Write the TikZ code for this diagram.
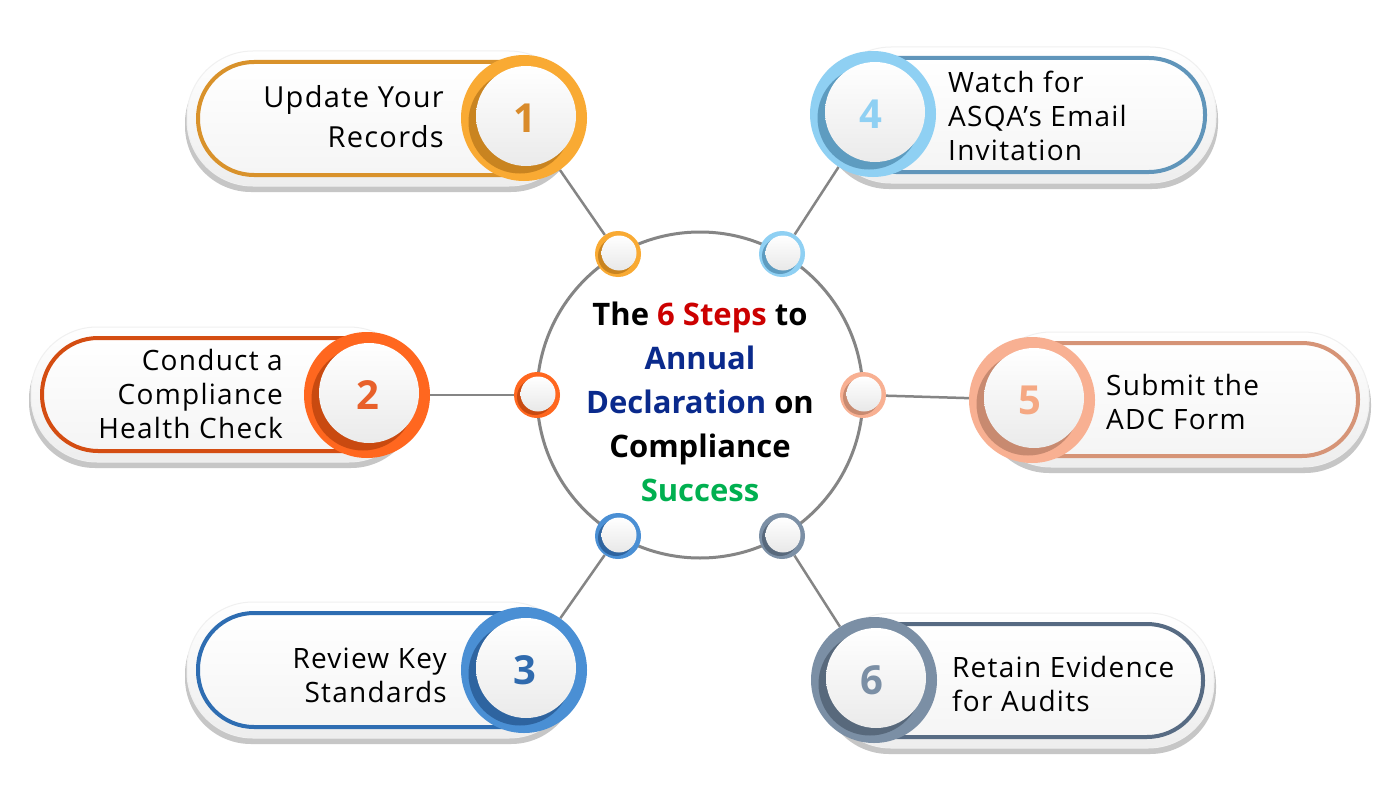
\documentclass[tikz,border=0pt]{standalone}
\usepackage{fontspec}
\setmainfont{Open Sans}
\newfontfamily\bodyfont[LetterSpace=4.5]{Open Sans}
\usetikzlibrary{calc}
\definecolor{ringA}{HTML}{F9AA33}\definecolor{darkA}{HTML}{C98420}\definecolor{strkA}{HTML}{D9922B}\definecolor{numA}{HTML}{D98B2B}
\definecolor{ringB}{HTML}{FF671F}\definecolor{darkB}{HTML}{C94A10}\definecolor{strkB}{HTML}{D44D12}\definecolor{numB}{HTML}{E8602A}
\definecolor{ringC}{HTML}{4A8FD4}\definecolor{darkC}{HTML}{2E64A0}\definecolor{strkC}{HTML}{2E6DB2}\definecolor{numC}{HTML}{2F6AAE}
\definecolor{ringD}{HTML}{8FD0F3}\definecolor{darkD}{HTML}{5E9CC0}\definecolor{strkD}{HTML}{6095BA}\definecolor{numD}{HTML}{8FD0F3}
\definecolor{ringE}{HTML}{F8B092}\definecolor{darkE}{HTML}{C88A70}\definecolor{strkE}{HTML}{D69477}\definecolor{numE}{HTML}{F5A883}
\definecolor{ringF}{HTML}{7B8FA5}\definecolor{darkF}{HTML}{58697C}\definecolor{strkF}{HTML}{576B83}\definecolor{numF}{HTML}{7B8FA5}
\definecolor{hubgray}{HTML}{858585}
\definecolor{tred}{HTML}{CC0000}\definecolor{tnavy}{HTML}{0A2A8C}\definecolor{tgreen}{HTML}{00B050}
% pill: outer x1,y1,x2,y2 ; stroke x1,y1,x2,y2 ; colour
\newcommand\mypill[9]{%
  \fill[gray!45,rounded corners=66] (#1-2,#2+6) rectangle (#3+2,#4+6);
  \shade[top color=white,bottom color=gray!14,rounded corners=66,draw=gray!12,line width=1] (#1,#2) rectangle (#3,#4);
  \shade[top color=white,bottom color=gray!8,rounded corners=56,draw=#9,line width=4] (#5,#6) rectangle (#7,#8);
}
\newcommand\bigdeco[2]{%
  \fill[#2] ($(#1.center)+(-4,4)$) circle (51.5);
  \shade[top color=white,bottom color=gray!16] ($(#1.center)+(2,-2)$) circle (50);
}
\newcommand\smalldeco[2]{%
  \fill[#2] ($(#1.center)+(-2,2)$) circle (18);
  \shade[top color=white,bottom color=gray!18] ($(#1.center)+(1,-1)$) circle (17.5);
}
\begin{document}
\begin{tikzpicture}[x=1pt,y=-1pt,
  bigring/.style={circle,minimum size=126,inner sep=0},
  smallring/.style={circle,minimum size=46,inner sep=0},
  numtext/.style={font=\fontsize{40}{40}\selectfont\bfseries,inner sep=0},
  lefttext/.style={font=\bodyfont\fontsize{28}{34}\selectfont,align=right,anchor=east,inner sep=0},
  righttext/.style={font=\bodyfont\fontsize{28}{34}\selectfont,align=left,anchor=west,inner sep=0},
  conn/.style={draw=hubgray,line width=2.5},
  hub/.style={circle,draw=hubgray,line width=3,minimum size=326,inner sep=0,fill=white}]
\useasboundingbox[fill=white] (0,0) rectangle (1400,800);

% pills
\mypill{187}{51}{575}{186}{198}{62}{560}{175}{strkA}
\mypill{31}{327}{415}{462}{42}{338}{400}{451}{strkB}
\mypill{187}{602}{575}{738}{198}{613}{560}{727}{strkC}
\mypill{825}{47}{1216}{183}{840}{58}{1205}{172}{strkD}
\mypill{985}{332}{1369}{467}{1000}{343}{1358}{456}{strkE}
\mypill{825}{613}{1214}{748}{840}{624}{1203}{737}{strkF}

% hub
\node[hub] (hub) at (700,395) {};

% small circles
\node[smallring] (s1) at (618,254) {};
\node[smallring] (s4) at (782,254) {};
\node[smallring] (s2) at (537,395) {};
\node[smallring] (s5) at (863,395) {};
\node[smallring] (s3) at (618,536) {};
\node[smallring] (s6) at (782,536) {};

% big circles
\node[bigring] (b1) at (524,118) {};
\node[bigring] (b2) at (367,395) {};
\node[bigring] (b3) at (524,670) {};
\node[bigring] (b4) at (873,114) {};
\node[bigring] (b5) at (1032,400) {};
\node[bigring] (b6) at (874,680) {};

% connectors
\draw[conn] (s1) -- (b1);
\draw[conn] (s2) -- (b2);
\draw[conn] (s3) -- (b3);
\draw[conn] (s4) -- (b4);
\draw[conn] (s5) -- (b5);
\draw[conn] (s6) -- (b6);

% small circle fills
\fill[ringA] (s1) circle (23); \smalldeco{s1}{darkA}
\fill[ringD] (s4) circle (23); \smalldeco{s4}{darkD}
\fill[ringB] (s2) circle (23); \smalldeco{s2}{darkB}
\fill[ringE] (s5) circle (23); \smalldeco{s5}{darkE}
\fill[ringC] (s3) circle (23); \smalldeco{s3}{darkC}
\fill[ringF] (s6) circle (23); \smalldeco{s6}{darkF}

% big circle fills
\fill[ringA] (b1) circle (63); \bigdeco{b1}{darkA}
\fill[ringB] (b2) circle (63); \bigdeco{b2}{darkB}
\fill[ringC] (b3) circle (63); \bigdeco{b3}{darkC}
\fill[ringD] (b4) circle (63); \bigdeco{b4}{darkD}
\fill[ringE] (b5) circle (63); \bigdeco{b5}{darkE}
\fill[ringF] (b6) circle (63); \bigdeco{b6}{darkF}

% numbers
\node[numtext,text=numA] (n1) at ($(b1)+(1,0)$) {1};
\node[numtext,text=numB] (n2) at ($(b2)+(1,0)$) {2};
\node[numtext,text=numC] (n3) at ($(b3)+(1,0)$) {3};
\node[numtext,text=numD] (n4) at ($(b4)+(-2,0)$) {4};
\node[numtext,text=numE] (n5) at ($(b5)+(-2,0)$) {5};
\node[numtext,text=numF] (n6) at ($(b6)+(-2,0)$) {6};

% labels
\node[lefttext,font=\bodyfont\fontsize{29}{40}\selectfont] (l1) at (444,117) {Update Your\\Records};
\node[lefttext] (l2) at (283,394) {Conduct a\\Compliance\\Health Check};
\node[lefttext] (l3) at (447,675) {Review Key\\Standards};
\node[righttext] (l4) at (948,116) {Watch for\\ASQA’s Email\\Invitation};
\node[righttext] (l5) at (1106,402) {Submit the\\ADC Form};
\node[righttext] (l6) at (952,684) {Retain Evidence\\for Audits};

% title
\node[font=\fontsize{31}{44}\selectfont\bfseries,align=center,inner sep=0] (title) at (700,402)
  {The \textcolor{tred}{6 Steps} to\\\textcolor{tnavy}{Annual}\\\textcolor{tnavy}{Declaration} on\\Compliance\\\textcolor{tgreen}{Success}};
\end{tikzpicture}
\end{document}
